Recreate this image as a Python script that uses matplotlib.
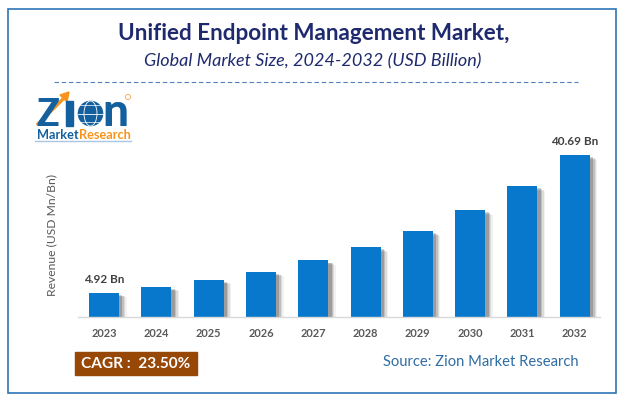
import matplotlib
matplotlib.use('Agg')
import matplotlib.pyplot as plt
import matplotlib.patheffects as pe
from matplotlib.patches import Rectangle, Circle, Ellipse, Polygon

plt.rcParams['font.family'] = ['Lato', 'DejaVu Sans']

years = ['2023', '2024', '2025', '2026', '2027', '2028', '2029', '2030', '2031', '2032']
revenue = [4.92, 6.48, 8.3, 10.4, 13.3, 16.7, 20.9, 26.3, 32.6, 40.69]
bar_labels = {0: '4.92 Bn', 9: '40.69 Bn'}
y_min = -1.26
y_max = 40.69

W, H = 624, 401
fig = plt.figure(figsize=(W/100, H/100), dpi=100)

# page layer in pixel coords
bg = fig.add_axes([0, 0, 1, 1])
bg.set_xlim(0, W)
bg.set_ylim(H, 0)
bg.axis('off')
bg.add_patch(Rectangle((7.5, 8.5), 608.5, 384, fill=False, ec='#2e75b6', lw=1.2))
bg.plot([54, 578], [82, 82], color='#4f81bd', lw=0.8, ls=(0, (4, 2.5)))

bg.text(314, 33.5, 'Unified Endpoint Management Market,', ha='center', va='center',
        fontsize=16.2, fontweight='bold', color='#1f2a6e')
bg.text(313, 61.5, 'Global Market Size, 2024-2032 (USD Billion)', ha='center', va='center',
        fontsize=13, style='italic', color='#1f2a6e')

# logo
bg.text(36, 126, 'Z', fontsize=27, fontweight='black', color='#14609f', ha='left', va='baseline')
bg.plot([38, 66], [124, 96], color='#f7941d', lw=2.4)
bg.add_patch(Polygon([[69, 92], [60, 95], [67, 102]], color='#f7941d'))
bg.add_patch(Rectangle((66, 101), 7, 25, color='#14609f'))
bg.add_patch(Circle((90.5, 113.5), 12.8, fc='#14609f', ec='none'))
bg.add_patch(Ellipse((90.5, 113.5), 13, 25, fill=False, ec='white', lw=0.6))
bg.plot([78, 103], [113.5, 113.5], color='white', lw=0.6)
bg.plot([80, 101], [105, 105], color='white', lw=0.5)
bg.plot([80, 101], [122, 122], color='white', lw=0.5)
bg.text(102, 126, 'n', fontsize=33, fontweight='black', color='#14609f', ha='left', va='baseline')
bg.add_patch(Circle((128, 97), 2.6, fill=False, ec='#f7b267', lw=0.7))
bg.text(37, 139, 'Market', fontsize=9.2, fontweight='bold', color='#14609f', ha='left', va='baseline')
bg.text(79, 139, 'Research', fontsize=9.2, fontweight='bold', color='#f7941d', ha='left', va='baseline')
bg.plot([35, 77], [140.5, 140.5], color='#a9c6e3', lw=1.0)
bg.plot([78, 131], [140.5, 140.5], color='#a9c6e3', lw=1.0)

# bar chart
ax = fig.add_axes([78/W, 1 - 316.5/H, (600 - 78)/W, (316.5 - 155)/H])
ax.patch.set_alpha(0)
x = list(range(len(years)))
heights = [v - y_min for v in revenue]
shadow = [pe.SimplePatchShadow(offset=(o, -o*0.6), shadow_rgbFace='#000000', alpha=a)
          for o, a in [(5.5, 0.05), (4.5, 0.09), (3.5, 0.13), (2.5, 0.18)]]
bars = ax.bar(x, heights, bottom=y_min, width=30/52.3, color='#0878cc')
for b in bars:
    b.set_path_effects(shadow + [pe.Normal()])
ax.set_xlim(-26/52.3, 9 + 25.3/52.3)
ax.set_ylim(y_min, y_max)
ax.set_yticks([])
ax.set_xticks(x)
ax.set_xticklabels(years, fontsize=7.9, fontweight='bold', color='#595959')
ax.tick_params(axis='x', length=0, pad=8)
for s in ['top', 'left', 'right']:
    ax.spines[s].set_visible(False)
ax.spines['bottom'].set_color('#d9d9d9')
ax.spines['bottom'].set_linewidth(1.0)
for i, lab in bar_labels.items():
    ax.annotate(lab, (x[i], revenue[i]), xytext=(0, 5.5), textcoords='offset points',
                ha='center', va='bottom', fontsize=8.5, fontweight='bold',
                color='#404040', annotation_clip=False)

bg.text(52, 235, 'Revenue (USD Mn/Bn)', rotation=90, ha='center', va='center',
        fontsize=8.7, color='#595959')

# cagr box and source
bg.add_patch(Rectangle((75, 352), 122, 23, color='#974706'))
bg.text(136, 364, 'CAGR :  23.50%', ha='center', va='center', fontsize=11.1,
        fontweight='bold', color='white')
bg.text(481, 362, 'Source: Zion Market Research', ha='center', va='center',
        fontsize=10.6, color='#2e6ca4')

fig.savefig('out.png', dpi=100)
